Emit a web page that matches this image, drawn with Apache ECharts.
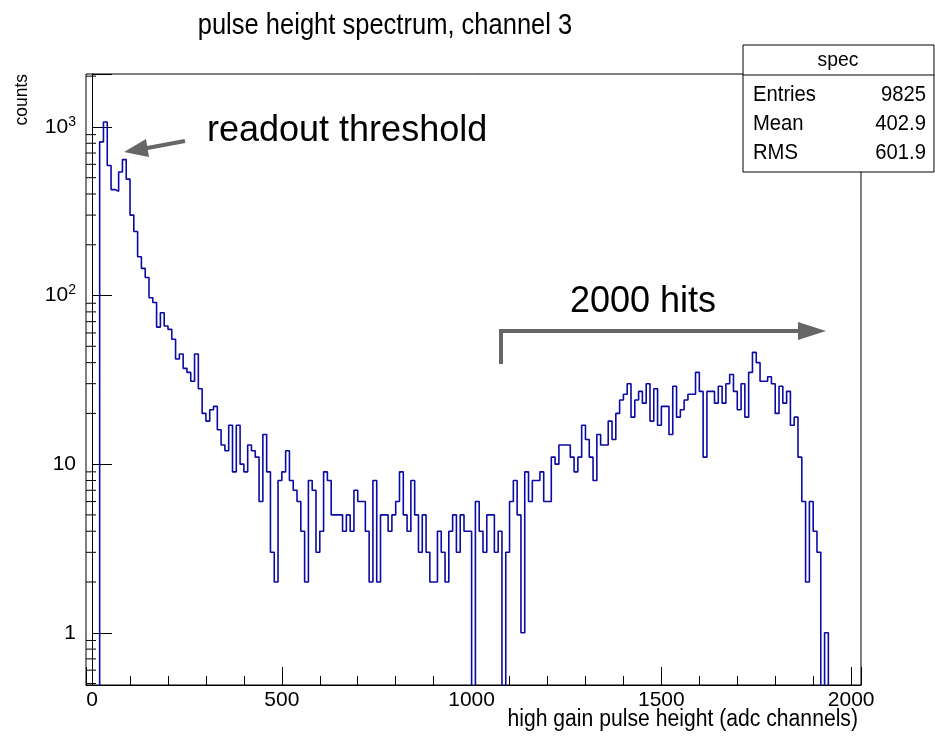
<!DOCTYPE html>
<html>
<head>
<meta charset="utf-8">
<script src="https://cdn.jsdelivr.net/npm/echarts@6/dist/echarts.min.js"></script>
</head>
<body style="margin:0">
<div id="chartDom" style="width:935px;height:738px;"></div>
<script>
// bin lower edges (width 10 adc channels) and counts
var binWidth = 10;
var firstBin = 20;
var counts = [815,1070,590,425,415,540,640,490,300,240,170,145,128,97,91,65,79,66,63,55,
  42,45,37,35,31,45,28,20,18,21,22,16,13,12,17,9,17,10,9,13,
  12,11,6,15,9,3,2,8,9,12,8,7,6,4,2,8,7,3,4,9,8,5,
  5,5,4,5,4,7,6,6,4,2,8,2,5,
  5,4,5,6,9,5,4,8,5,3,5,3,2,2,4,3,2,4,5,3,5,4,4,0,6,4,3,5,5,3,4,0,
  3,6,8,5,1,9,6,8,8,9,6,6,11,10,13,13,13,11,9,11,17,14,11,8,15,13,13,18,14,20,
  24,26,30,19,24,27,23,30,18,28,17,22,22,15,29,19,21,24,26,26,35,27,11,27,27,23,
  29,23,30,34,27,21,30,19,35,46,40,31,31,33,30,20,29,23,27,17,19,11,6,2,6,4,3,0,1];
var yTickValues = [1, 10, 100, 1000];
var stats = [['Entries', '9825'], ['Mean', '402.9'], ['RMS', '601.9']];

var XMIN = -16, XMAX = 2026, YMIN = 0.49, YMAX = 2060;
var EMPTY = 0.3; // below the axis, clipped

var pts = [[0, EMPTY]];
for (var i = 0; i < counts.length; i++) {
  pts.push([firstBin + i * binWidth, counts[i] > 0 ? counts[i] : EMPTY]);
}
var lastEdge = firstBin + counts.length * binWidth;
pts.push([lastEdge, EMPTY]);
pts.push([XMAX, EMPTY]);

var minorY = [];
[0.1, 1, 10, 100, 1000].forEach(function (d) {
  for (var k = 2; k <= 9; k++) {
    var v = d * k;
    if (v > YMIN && v < YMAX) minorY.push([XMIN, v]);
  }
});

var myChart = echarts.init(document.getElementById('chartDom'));
var font = 'Liberation Sans, Arial, sans-serif';
var statsGraphic = [
  {type: 'rect', shape: {x: 743, y: 45, width: 191, height: 127}, style: {fill: '#fff', stroke: '#000', lineWidth: 1}},
  {type: 'line', shape: {x1: 743, y1: 75, x2: 934, y2: 75}, style: {stroke: '#000', lineWidth: 1}},
  {type: 'text', x: 838, y: 60, scaleX: 0.92, style: {text: 'spec', font: '21px ' + font, align: 'center', verticalAlign: 'middle', fill: '#000'}}
];
stats.forEach(function (r, i) {
  statsGraphic.push({type: 'text', x: 753, y: 95 + i * 29, scaleX: 0.92, style: {text: r[0], font: '22px ' + font, verticalAlign: 'middle', fill: '#000'}});
  statsGraphic.push({type: 'text', x: 926, y: 95 + i * 29, scaleX: 0.92, style: {text: r[1], font: '22px ' + font, align: 'right', verticalAlign: 'middle', fill: '#000'}});
});

myChart.setOption({
  animation: false,
  backgroundColor: '#fff',
  grid: {left: 86, right: 74, top: 74, bottom: 53, show: true, borderColor: '#000', borderWidth: 1},
  xAxis: {
    type: 'value', min: XMIN, max: XMAX, splitNumber: 4,
    axisLine: {lineStyle: {color: '#000'}},
    axisTick: {inside: true, length: 18, lineStyle: {color: '#000'}},
    minorTick: {show: true, splitNumber: 5, length: 9, lineStyle: {color: '#000'}},
    splitLine: {show: false},
    axisLabel: {fontFamily: font, fontSize: 21, color: '#000', margin: 5,
      formatter: function (v) { return v % 500 === 0 ? String(v) : ''; }}
  },
  yAxis: {
    type: 'log', logBase: 10, min: YMIN, max: YMAX,
    axisLine: {lineStyle: {color: '#000'}},
    axisTick: {inside: true, length: 20, lineStyle: {color: '#000'}},
    splitLine: {show: false},
    axisLabel: {fontFamily: font, fontSize: 21, color: '#000', margin: 10,
      formatter: function (v) {
        var e = Math.round(Math.log10(v));
        if (yTickValues.indexOf(Math.round(v)) < 0) return '';
        if (e <= 1) return String(Math.round(v));
        return '{b|10}{s|' + e + '}';
      },
      rich: {b: {fontFamily: font, fontSize: 21}, s: {fontFamily: font, fontSize: 14, verticalAlign: 'top', padding: [0, 0, 10, 0]}}
    }
  },
  series: [
    {type: 'line', data: pts, step: 'end', symbol: 'none', clip: true,
      lineStyle: {color: '#0a0aa5', width: 1.6}},
    {type: 'custom', data: minorY, clip: true, silent: true,
      renderItem: function (params, api) {
        var p = api.coord([api.value(0), api.value(1)]);
        return {type: 'line', shape: {x1: p[0], y1: p[1], x2: p[0] + 10, y2: p[1]}, style: {stroke: '#000', lineWidth: 1}};
      }}
  ],
  graphic: statsGraphic.concat([
    {type: 'text', x: 385, y: 26, scaleX: 0.88, style: {text: 'pulse height spectrum, channel 3', font: '29px ' + font, align: 'center', verticalAlign: 'middle', fill: '#000'}},
    {type: 'text', x: 22, y: 74, rotation: Math.PI / 2, scaleX: 0.92, style: {text: 'counts', font: '19px ' + font, align: 'right', verticalAlign: 'middle', fill: '#000'}},
    {type: 'text', x: 858, y: 720, scaleX: 0.92, style: {text: 'high gain pulse height (adc channels)', font: '23px ' + font, align: 'right', verticalAlign: 'middle', fill: '#000'}},
    {type: 'text', x: 207, y: 131, style: {text: 'readout threshold', font: '36px ' + font, verticalAlign: 'middle', fill: '#000'}},
    {type: 'line', shape: {x1: 185, y1: 141, x2: 142, y2: 149}, style: {stroke: '#666', lineWidth: 4}},
    {type: 'polygon', shape: {points: [[124, 152], [146, 139], [149, 157]]}, style: {fill: '#666'}},
    {type: 'text', x: 570, y: 302, style: {text: '2000 hits', font: '36px ' + font, verticalAlign: 'middle', fill: '#000'}},
    {type: 'line', shape: {x1: 501, y1: 329, x2: 501, y2: 364}, style: {stroke: '#666', lineWidth: 4}},
    {type: 'line', shape: {x1: 501, y1: 331, x2: 805, y2: 331}, style: {stroke: '#666', lineWidth: 4}},
    {type: 'polygon', shape: {points: [[826, 331], [798, 322], [798, 340]]}, style: {fill: '#666'}}
  ])
});
</script>
</body>
</html>
